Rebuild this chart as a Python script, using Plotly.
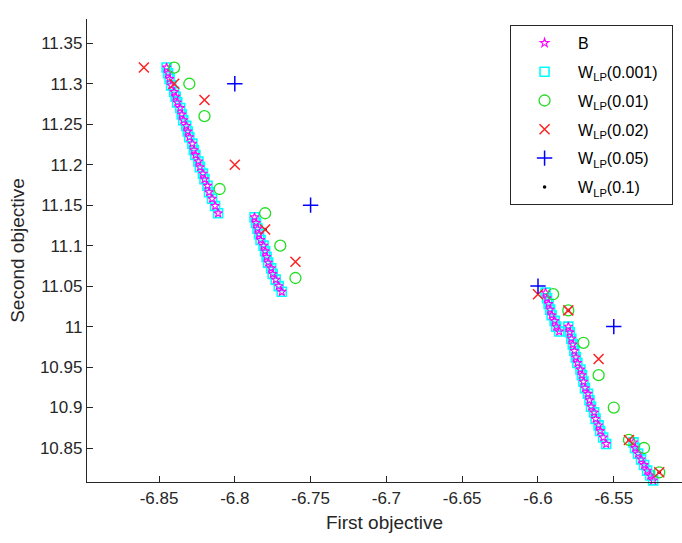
import plotly.graph_objects as go

# ---- data ----
# Solution set B (dense front, 4 segments)
b_first = [
    -6.845, -6.844, -6.843, -6.842, -6.840, -6.839, -6.838, -6.836, -6.835, -6.834,
    -6.832, -6.831, -6.830, -6.828, -6.827, -6.826, -6.824, -6.823, -6.821, -6.820,
    -6.818, -6.817, -6.815, -6.813, -6.811,
    -6.787, -6.786, -6.785, -6.784, -6.783, -6.781, -6.780, -6.779, -6.778, -6.776,
    -6.775, -6.773, -6.771, -6.769,
    -6.595, -6.594, -6.593, -6.592, -6.591, -6.589, -6.588, -6.586,
    -6.580, -6.579, -6.578, -6.577, -6.576, -6.575, -6.574, -6.572, -6.571, -6.570,
    -6.569, -6.567, -6.566, -6.565, -6.563, -6.562, -6.560, -6.559, -6.557, -6.555,
    -6.537, -6.536, -6.534, -6.532, -6.530, -6.528, -6.526, -6.524, -6.521, -6.519,
]
b_second = [
    11.320, 11.313, 11.306, 11.298, 11.290, 11.284, 11.277, 11.270, 11.262, 11.255,
    11.248, 11.241, 11.234, 11.226, 11.218, 11.212, 11.204, 11.197, 11.189, 11.182,
    11.174, 11.166, 11.158, 11.149, 11.140,
    11.135, 11.128, 11.121, 11.114, 11.107, 11.100, 11.093, 11.086, 11.079, 11.072,
    11.065, 11.058, 11.050, 11.043,
    11.042, 11.035, 11.028, 11.021, 11.014, 11.007, 11.000, 10.994,
    11.000, 10.993, 10.985, 10.978, 10.970, 10.962, 10.955, 10.947, 10.940, 10.932,
    10.924, 10.917, 10.909, 10.901, 10.894, 10.886, 10.878, 10.871, 10.863, 10.855,
    10.857, 10.850, 10.843, 10.836, 10.829, 10.822, 10.816, 10.810, 10.806, 10.803,
]
# W_LP(0.001) coincides with B
w001_first = list(b_first)
w001_second = list(b_second)

w01_first = [-6.84, -6.83, -6.82, -6.81, -6.78, -6.77, -6.76,
             -6.59, -6.58, -6.57, -6.56, -6.55, -6.54, -6.53, -6.52]
w01_second = [11.32, 11.30, 11.26, 11.17, 11.14, 11.10, 11.06,
              11.04, 11.02, 10.98, 10.94, 10.90, 10.86, 10.85, 10.82]

w02_first = [-6.86, -6.84, -6.82, -6.80, -6.78, -6.76,
             -6.60, -6.58, -6.56, -6.54, -6.52]
w02_second = [11.32, 11.30, 11.28, 11.20, 11.12, 11.08,
              11.04, 11.02, 10.96, 10.86, 10.82]

w05_first = [-6.80, -6.75, -6.60, -6.55]
w05_second = [11.30, 11.15, 11.05, 11.00]

w1_first = [-6.84, -6.78, -6.58, -6.54, -6.52]
w1_second = [11.30, 11.12, 11.02, 10.86, 10.82]

x_tickvals = [-6.85, -6.80, -6.75, -6.70, -6.65, -6.60, -6.55]
x_ticktext = ["-6.85", "-6.8", "-6.75", "-6.7", "-6.65", "-6.6", "-6.55"]
y_tickvals = [10.85, 10.90, 10.95, 11.00, 11.05, 11.10, 11.15, 11.20, 11.25, 11.30, 11.35]
y_ticktext = ["10.85", "10.9", "10.95", "11", "11.05", "11.1", "11.15", "11.2", "11.25", "11.3", "11.35"]

FONT = "Liberation Sans, Arial, sans-serif"
TXT = "#262626"
PAD = "\u00a0\u00a0"

fig = go.Figure()

def add(name, xs, ys, symbol, color, size, rank, lw=1.3):
    fig.add_trace(go.Scatter(
        x=xs, y=ys, mode="markers", name=name + PAD, legendrank=rank,
        legendgroup=name, cliponaxis=False,
        marker=dict(symbol=symbol, size=size, color=color,
                    line=dict(color=color, width=lw)),
    ))

add("W<sub>LP</sub>(0.1)", w1_first, w1_second, "circle", "#000000", 3.5, 6, 0)
add("W<sub>LP</sub>(0.001)", w001_first, w001_second, "square-open", "#00FFFF", 9, 2, 1.6)
add("B", b_first, b_second, "star-open", "#FF00FF", 6.5, 1, 1.1)
add("W<sub>LP</sub>(0.01)", w01_first, w01_second, "circle-open", "#22DD22", 11, 3)
add("W<sub>LP</sub>(0.02)", w02_first, w02_second, "x-thin-open", "#FF2222", 10, 4, 1.5)
add("W<sub>LP</sub>(0.05)", w05_first, w05_second, "cross-thin-open", "#0000FF", 11, 5, 1.5)

fig.update_layout(
    width=682, height=543,
    margin=dict(l=87, r=0, t=19, b=61),
    paper_bgcolor="white", plot_bgcolor="white",
    font=dict(family=FONT, color=TXT, size=17),
    showlegend=True,
    legend=dict(
        x=0.985, y=0.987, xanchor="right", yanchor="top",
        bgcolor="white", bordercolor=TXT, borderwidth=1,
        font=dict(family=FONT, size=16, color="#000000"),
        itemwidth=57, tracegroupgap=5,
    ),
    xaxis=dict(
        range=[-6.8975, -6.505], showgrid=False, zeroline=False,
        showline=True, linecolor=TXT, linewidth=1.3,
        ticks="inside", ticklen=6, tickcolor=TXT, tickwidth=1,
        tickvals=x_tickvals, ticktext=x_ticktext,
        tickfont=dict(size=17, color=TXT),
        title=dict(text="First objective", font=dict(size=19, color=TXT), standoff=9),
    ),
    yaxis=dict(
        range=[10.808, 11.380], showgrid=False, zeroline=False,
        showline=True, linecolor=TXT, linewidth=1.3,
        ticks="inside", ticklen=6, tickcolor=TXT, tickwidth=1,
        tickvals=y_tickvals, ticktext=y_ticktext,
        tickfont=dict(size=17, color=TXT),
        title=dict(text="Second objective", font=dict(size=19, color=TXT), standoff=10),
    ),
)

fig.write_html("out.html")
